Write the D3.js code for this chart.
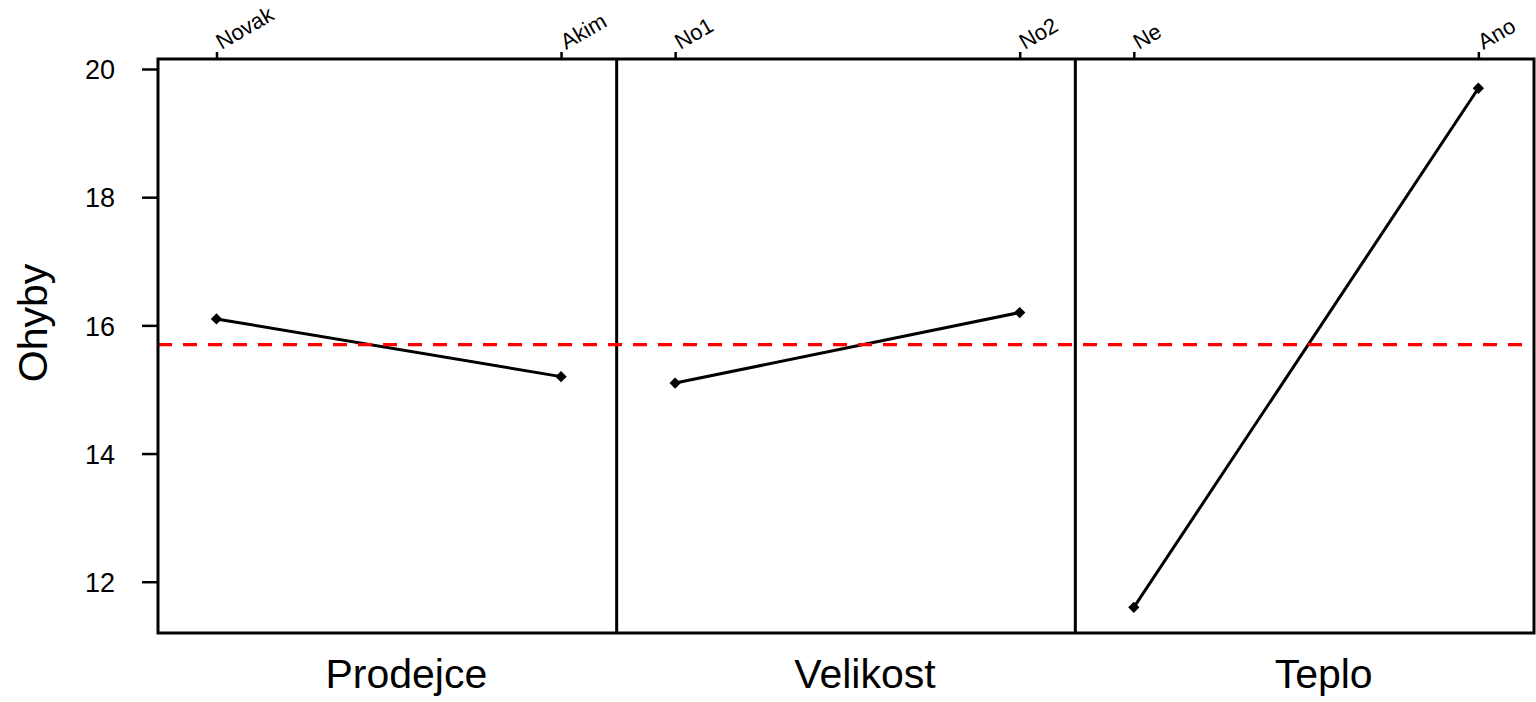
<!DOCTYPE html>
<html>
<head>
<meta charset="utf-8">
<script src="https://cdn.jsdelivr.net/npm/d3@7"></script>
<style>
  body { margin: 0; background: #fff; }
  text { font-family: "Liberation Sans", Arial, sans-serif; fill: #000; }
</style>
</head>
<body>
<div id="graph"></div>
<script>
// factor names, their levels and level means
const factors = ["Prodejce", "Velikost", "Teplo"];
const levels = [["Novak", "Akim"], ["No1", "No2"], ["Ne", "Ano"]];
const means = [[16.1, 15.2], [15.1, 16.2], [11.6, 19.7]];
const grandMean = 15.7;
const yTicks = [12, 14, 16, 18, 20];
const yLabel = "Ohyby";

// set the dimensions and margins of the graph
var margin = { top: 59, right: 2, bottom: 69, left: 158 },
  width = 1536 - margin.left - margin.right,
  height = 702 - margin.top - margin.bottom;

var panelW = width / factors.length;

var svg = d3.select("#graph")
  .append("svg")
  .attr("width", 1536)
  .attr("height", 702)
  .append("g")
  .attr("transform", "translate(" + margin.left + "," + margin.top + ")");

// Y scale, shared by all panels
var y = d3.scaleLinear()
  .domain([11.2, 20.156])
  .range([height, 0]);

var yAxis = svg.append("g")
  .call(d3.axisLeft(y).tickValues(yTicks).tickSize(16).tickPadding(27));
yAxis.select(".domain").remove();
yAxis.selectAll("line").attr("stroke-width", 2.5);
yAxis.selectAll("text").style("font-size", "27px").attr("dy", "0.36em");

svg.append("text")
  .attr("transform", "translate(" + (47 - margin.left) + "," + (323 - margin.top) + ") rotate(-90)")
  .attr("text-anchor", "middle")
  .style("font-size", "41px")
  .text(yLabel);

factors.forEach(function(f, i) {
  var g = svg.append("g")
    .attr("transform", "translate(" + (i * panelW) + ",0)");

  var x = d3.scalePoint()
    .domain(levels[i])
    .range([panelW * 0.1275, panelW * 0.8787]);

  // top ticks
  var top = g.append("g").call(d3.axisTop(x).tickSize(7).tickFormat(""));
  top.select(".domain").remove();
  top.selectAll("line").attr("stroke-width", 2.5);

  g.selectAll(".lvl")
    .data(levels[i])
    .enter()
    .append("text")
    .attr("class", "lvl")
    .attr("transform", d => "translate(" + (x(d) + 5) + ",-9) rotate(-30)")
    .style("font-size", "22px")
    .text(d => d);

  var pts = levels[i].map((l, j) => ({ level: l, value: means[i][j] }));

  g.append("path")
    .datum(pts)
    .attr("fill", "none")
    .attr("stroke", "#000")
    .attr("stroke-width", 3)
    .attr("d", d3.line().x(d => x(d.level)).y(d => y(d.value)));

  g.selectAll(".dot")
    .data(pts)
    .enter()
    .append("path")
    .attr("class", "dot")
    .attr("d", d3.symbol().type(d3.symbolSquare).size(64))
    .attr("transform", d => "translate(" + x(d.level) + "," + y(d.value) + ") rotate(45)")
    .attr("fill", "#000");

  g.append("text")
    .attr("x", panelW / 2 + 19)
    .attr("y", height + 55)
    .attr("text-anchor", "middle")
    .style("font-size", "41px")
    .text(f);

  if (i > 0) {
    g.append("line")
      .attr("x1", 0).attr("x2", 0)
      .attr("y1", 0).attr("y2", height)
      .attr("stroke", "#000")
      .attr("stroke-width", 3);
  }
});

// grand mean
svg.append("line")
  .attr("x1", 0).attr("x2", width)
  .attr("y1", y(grandMean)).attr("y2", y(grandMean))
  .attr("stroke", "#ff0000")
  .attr("stroke-width", 3.2)
  .attr("stroke-dasharray", "14,11");

// frame
svg.append("rect")
  .attr("width", width)
  .attr("height", height)
  .attr("fill", "none")
  .attr("stroke", "#000")
  .attr("stroke-width", 3);
</script>
</body>
</html>
